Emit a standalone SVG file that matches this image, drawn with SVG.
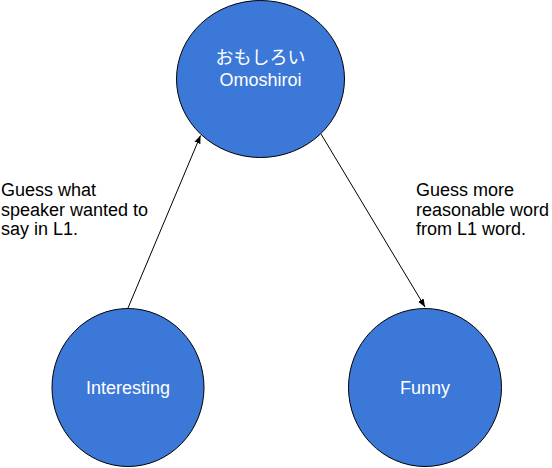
<svg xmlns="http://www.w3.org/2000/svg" width="552" height="468" viewBox="0 0 552 468">
<defs>
<style>
.node{fill:#3c78d8;stroke:#000;stroke-width:1}
.nt{fill:#fff;font-family:"Liberation Sans","Noto Sans CJK JP",Arial,sans-serif;font-size:18px;text-anchor:middle}
.lbl{fill:#000;font-family:"Liberation Sans",Arial,sans-serif;font-size:18px}
.edge{stroke:#000;stroke-width:1;fill:none;marker-end:url(#arr)}
</style>
<marker id="arr" viewBox="0 0 10 10" refX="10" refY="5" markerWidth="8" markerHeight="8" markerUnits="userSpaceOnUse" orient="auto">
<path d="M0,1 L10,5 L0,9 Z" fill="#000"/>
</marker>
</defs>
<rect width="552" height="468" fill="#fff"/>
<g id="connectors">
<line class="edge" x1="128" y1="308" x2="200.5" y2="135.5"/>
<line class="edge" x1="321" y1="134" x2="425" y2="307"/>
</g>
<g id="node-omoshiroi">
<ellipse class="node" cx="260.5" cy="79" rx="84" ry="78.5"/>
<text class="nt" x="260.5" y="64">おもしろい</text>
<text class="nt" x="260.5" y="86">Omoshiroi</text>
</g>
<g id="node-interesting">
<ellipse class="node" cx="128" cy="387.5" rx="76" ry="79"/>
<text class="nt" x="128" y="394">Interesting</text>
</g>
<g id="node-funny">
<ellipse class="node" cx="425" cy="387.5" rx="76.5" ry="79"/>
<text class="nt" x="425" y="394">Funny</text>
</g>
<g id="label-left">
<text class="lbl" x="1" y="196">Guess what</text>
<text class="lbl" x="1" y="215.5">speaker wanted to</text>
<text class="lbl" x="1" y="235">say in L1.</text>
</g>
<g id="label-right">
<text class="lbl" x="416" y="196">Guess more</text>
<text class="lbl" x="416" y="215.5">reasonable word</text>
<text class="lbl" x="416" y="235">from L1 word.</text>
</g>
</svg>
